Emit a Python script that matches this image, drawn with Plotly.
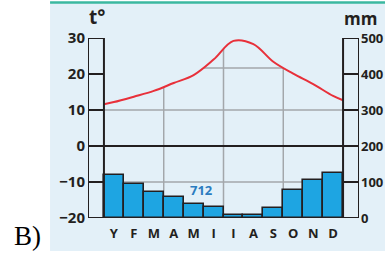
import plotly.graph_objects as go

months = ["Y", "F", "M", "A", "M", "I", "I", "A", "S", "O", "N", "D"]
temperature = [12.2, 13.7, 15.3, 17.5, 19.7, 24.0, 29.2, 28.3, 23.4, 20.1, 17.2, 13.9]
temp_start = 11.6   # curve value read at the left edge of January
temp_end = 12.7     # curve value read at the right edge of December
precipitation = [120, 95, 73, 57, 39, 31, 9, 7, 27, 78, 106, 125]
annual_total = "712"
temp_ticks = [-20, -10, 0, 10, 20, 30]
precip_ticks = [0, 100, 200, 300, 400, 500]

PANEL = "#e3f0f8"
DARK = "#231f20"
GRID = "#a3a7ab"
BAR = "#1ea5e2"
RED = "#e8303a"
FONT = "Open Sans"

x_idx = list(range(len(months)))
curve_x = [-0.5] + x_idx + [len(months) - 0.5]
curve_y = [temp_start] + temperature + [temp_end]
TMIN, TMAX = temp_ticks[0], temp_ticks[-1]
XL, XR = -1.3, len(months) + 0.3

fig = go.Figure()
fig.add_trace(go.Bar(x=x_idx, y=precipitation, yaxis="y2", width=1,
                     marker=dict(color=BAR, line=dict(color=DARK, width=1.6)),
                     hoverinfo="skip"))
fig.add_trace(go.Scatter(x=curve_x, y=[TMAX] * len(curve_x), mode="lines",
                         line=dict(width=0, shape="spline"), hoverinfo="skip"))
fig.add_trace(go.Scatter(x=curve_x, y=curve_y, mode="lines",
                         line=dict(color=RED, width=2, shape="spline"),
                         fill="tonexty", fillcolor=PANEL, hoverinfo="skip"))

shapes = []
# panel background and top teal rule
shapes.append(dict(type="rect", xref="paper", yref="paper", x0=-0.14, x1=1.2,
                   y0=-0.183, y1=1.197, fillcolor=PANEL, line=dict(width=0), layer="below"))
shapes.append(dict(type="line", xref="paper", yref="paper", x0=-0.14, x1=1.2,
                   y0=1.197, y1=1.197, line=dict(color="#3bb8a0", width=2.5), layer="below"))
# grid below the curve
for yv in [10, -10, 21.7]:
    shapes.append(dict(type="line", x0=-0.5, x1=len(months) - 0.5, y0=yv, y1=yv,
                       line=dict(color=GRID, width=1.5), layer="below"))
for xv in [2.5, 5.5, 8.5]:
    shapes.append(dict(type="line", x0=xv, x1=xv, y0=TMIN, y1=TMAX,
                       line=dict(color=GRID, width=1.5), layer="below"))
# side boxes
for x0, x1 in [(XL, -0.5), (len(months) - 0.5, XR)]:
    shapes.append(dict(type="rect", x0=x0, x1=x1, y0=TMIN, y1=TMAX,
                       line=dict(color=DARK, width=2), layer="above"))
    for yv in [20, 10, -10]:
        shapes.append(dict(type="line", x0=x0, x1=x1, y0=yv, y1=yv,
                           line=dict(color=DARK, width=2), layer="above"))
for yv in [0, TMIN]:
    shapes.append(dict(type="line", x0=XL, x1=XR, y0=yv, y1=yv,
                       line=dict(color=DARK, width=2), layer="above"))

tickfont = dict(family=FONT, size=15, color=DARK, weight=700)
fig.update_layout(
    width=385, height=257,
    margin=dict(l=88, r=26, t=38, b=39, autoexpand=False),
    paper_bgcolor="white", plot_bgcolor=PANEL,
    showlegend=False, bargap=0,
    shapes=shapes,
    xaxis=dict(range=[XL, XR], tickvals=x_idx, ticktext=months, showgrid=False,
               zeroline=False, showline=False, ticks="", ticklabelstandoff=6,
               automargin=False,
               tickfont=dict(family=FONT, size=13, color=DARK, weight=700)),
    yaxis=dict(range=[TMIN, TMAX], tickvals=temp_ticks, showgrid=False, zeroline=False,
               showline=False, ticks="", ticklabelstandoff=2, automargin=False,
               tickfont=tickfont),
    yaxis2=dict(range=[precip_ticks[0], precip_ticks[-1]], tickvals=precip_ticks,
                overlaying="y", side="right", showgrid=False, zeroline=False,
                showline=False, ticks="", ticklabelstandoff=1, automargin=False,
                tickfont=dict(family=FONT, size=13, color=DARK, weight=700)),
    annotations=[
        dict(text="B)", xref="paper", yref="paper", x=-0.225, y=-0.1,
             xanchor="center", yanchor="middle", showarrow=False,
             font=dict(family="Liberation Serif", size=27, color="black")),
        dict(text=annual_total, x=4.4, y=-12.2, showarrow=False,
             xanchor="center", yanchor="middle",
             font=dict(family=FONT, size=13, color="#2b7cc0", weight=700)),
        dict(text="t°", xref="paper", yref="paper", x=0.033, y=1.117,
             xanchor="center", yanchor="middle", showarrow=False,
             font=dict(family=FONT, size=19, color=DARK, weight=700)),
        dict(text="mm", xref="paper", yref="paper", x=1.004, y=1.108,
             xanchor="center", yanchor="middle", showarrow=False,
             font=dict(family=FONT, size=17, color=DARK, weight=700)),
    ],
)

fig.write_html("out.html", config={"displayModeBar": False},
               post_script="document.body.style.margin='0';")
